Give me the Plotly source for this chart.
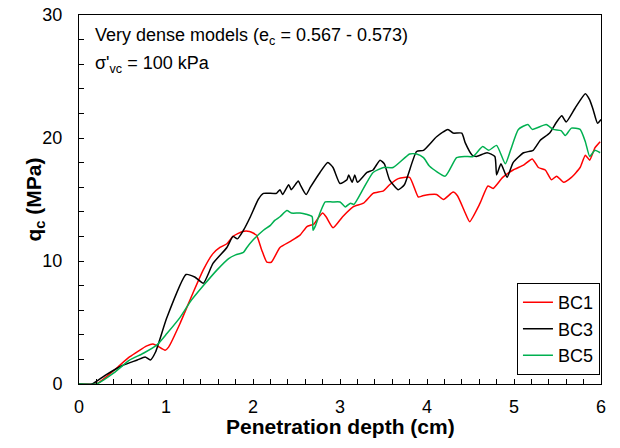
import plotly.graph_objects as go

# BC3 (black)
bc3_x = [0, 0.15, 0.3, 0.5, 0.67, 0.76, 0.82, 0.88, 1.01, 1.23, 1.33, 1.43, 1.54, 1.7, 1.77, 1.82, 1.89, 1.97,
         2.06, 2.12, 2.27, 2.31, 2.34, 2.41, 2.44, 2.52, 2.55, 2.61, 2.66, 2.77, 2.86, 2.92, 3.0, 3.08, 3.1, 3.14,
         3.17, 3.2, 3.31, 3.38, 3.46, 3.51, 3.57, 3.67, 3.74, 3.88, 3.96, 4.11, 4.24, 4.3, 4.4, 4.44, 4.52, 4.57,
         4.69, 4.78, 4.8, 4.85, 4.92, 4.99, 5.11, 5.22, 5.3, 5.41, 5.49, 5.55, 5.6, 5.7, 5.82, 5.87, 5.91, 5.96, 6.0]
bc3_y = [0, 0, 0.7, 1.5, 1.95, 2.2, 1.95, 2.6, 5.4, 8.9, 8.7, 8.2, 9.8, 11.1, 12.0, 11.8, 12.5, 13.6,
         15.0, 15.5, 15.5, 15.8, 15.4, 16.2, 15.8, 16.5, 16.1, 15.4, 16.0, 17.2, 18.0, 17.6, 16.3, 16.6, 17.0, 16.4,
         17.0, 16.4, 17.2, 17.4, 18.2, 17.9, 16.6, 15.8, 16.2, 18.9, 19.0, 20.1, 20.7, 20.4, 20.4, 19.6, 18.6, 18.5,
         18.8, 18.5, 17.0, 17.9, 16.8, 18.0, 18.8, 19.0, 19.8, 20.4, 21.3, 21.8, 21.3, 22.4, 23.6, 23.1, 22.3, 21.2, 21.5]

# BC1 (red)
bc1_x = [0, 0.2, 0.4, 0.58, 0.78, 0.85, 0.9, 0.99, 1.03, 1.16, 1.31, 1.43, 1.54, 1.62, 1.7, 1.77, 1.88, 1.96,
         2.04, 2.1, 2.16, 2.21, 2.31, 2.43, 2.54, 2.62, 2.7, 2.75, 2.8, 2.84, 2.92, 3.03, 3.15, 3.27, 3.38, 3.5,
         3.57, 3.67, 3.8, 3.9, 3.95, 4.11, 4.19, 4.3, 4.35, 4.44, 4.49, 4.61, 4.7, 4.76, 4.87, 4.99, 5.11, 5.21,
         5.28, 5.36, 5.43, 5.49, 5.57, 5.66, 5.76, 5.82, 5.87, 5.93, 5.99]
bc1_y = [0, 0, 1.1, 2.2, 3.1, 3.25, 3.1, 2.75, 3.0, 4.9, 7.4, 9.3, 10.6, 11.1, 11.4, 12.0, 12.4, 12.4,
         12.1, 10.9, 9.9, 9.9, 11.1, 11.6, 12.1, 12.8, 13.0, 13.5, 13.9, 13.6, 12.7, 13.6, 14.4, 14.7, 15.5, 15.7,
         16.2, 16.7, 16.8, 15.2, 15.3, 15.4, 15.0, 15.6, 15.3, 13.9, 13.2, 14.7, 16.1, 15.9, 16.8, 17.4, 17.8, 18.3,
         17.6, 17.4, 16.6, 16.9, 16.4, 16.8, 17.6, 18.6, 18.2, 19.2, 19.7]

# BC5 (green)
bc5_x = [0, 0.2, 0.4, 0.58, 0.74, 0.9, 1.01, 1.16, 1.28, 1.43, 1.59, 1.72, 1.8, 1.89, 1.93, 2.0, 2.12, 2.2,
         2.25, 2.31, 2.39, 2.44, 2.54, 2.61, 2.68, 2.69, 2.72, 2.77, 2.83, 2.91, 3.0, 3.06, 3.12, 3.16, 3.27, 3.38,
         3.5, 3.61, 3.8, 3.88, 3.96, 4.03, 4.21, 4.34, 4.44, 4.53, 4.64, 4.71, 4.8, 4.9, 4.96, 5.05, 5.16, 5.21,
         5.37, 5.45, 5.54, 5.59, 5.66, 5.76, 5.82, 5.87, 5.93, 5.99]
bc5_y = [0, 0, 0.9, 1.95, 2.5, 3.2, 4.1, 5.4, 6.7, 8.0, 9.3, 10.2, 10.5, 10.7, 11.1, 11.7, 12.5, 12.9,
         13.3, 13.6, 14.1, 13.9, 13.9, 13.8, 13.6, 12.5, 12.9, 13.9, 14.8, 14.8, 14.8, 14.4, 14.7, 14.6, 15.9, 17.2,
         17.6, 17.6, 18.7, 18.7, 18.4, 17.7, 16.9, 18.4, 18.5, 18.5, 19.3, 19.0, 19.4, 17.9, 19.0, 20.7, 21.1, 20.7,
         21.1, 20.7, 20.6, 20.2, 20.8, 20.7, 19.7, 18.5, 19.0, 18.8]

series = [("BC1", bc1_x, bc1_y, "#FF0000"),
          ("BC3", bc3_x, bc3_y, "#000000"),
          ("BC5", bc5_x, bc5_y, "#00B050")]

x_title = "<b>Penetration depth (cm)</b>"
y_title = "<b>q<sub>c</sub> (MPa)</b>"

FONT = "Liberation Sans, Arial, sans-serif"

fig = go.Figure()
for name, xs, ys, col in series:
    fig.add_trace(go.Scatter(x=xs, y=ys, mode="lines", name=name, legendgroup=name,
                             line=dict(color=col, width=1.5, shape="spline", smoothing=0.5)))

fig.update_layout(
    width=620, height=448,
    margin=dict(l=79, r=19, t=15, b=64),
    paper_bgcolor="white", plot_bgcolor="white",
    font=dict(family=FONT, size=18, color="black"),
    legend=dict(x=0.998, y=0.024, xanchor="right", yanchor="bottom",
                bordercolor="black", borderwidth=1, bgcolor="white",
                font=dict(size=18), tracegroupgap=0, itemwidth=30),
    xaxis=dict(range=[0, 6], dtick=1, showgrid=False, zeroline=False, automargin=False,
               showline=True, linecolor="black", linewidth=1, mirror=True,
               ticks="inside", ticklen=5, tickcolor="black", ticklabelstandoff=6,
               minor=dict(ticks="inside", dtick=0.2, ticklen=5, tickcolor="black"),
               tickfont=dict(size=18)),
    yaxis=dict(range=[0, 30], dtick=10, showgrid=False, zeroline=False, automargin=False,
               showline=True, linecolor="black", linewidth=1, mirror=True,
               ticks="inside", ticklen=5, tickcolor="black", ticklabelstandoff=12,
               minor=dict(ticks="inside", dtick=2, ticklen=5, tickcolor="black"),
               tickfont=dict(size=18)),
    annotations=[
        dict(text="Very dense models (e<sub>c</sub> = 0.567 - 0.573)", x=0.027, y=0.942,
             xref="paper", yref="paper", xanchor="left", yanchor="middle", showarrow=False,
             font=dict(size=18)),
        dict(text="σ'<sub>vc</sub> = 100 kPa", x=0.027, y=0.866,
             xref="paper", yref="paper", xanchor="left", yanchor="middle", showarrow=False,
             font=dict(size=18)),
        dict(text=x_title, x=0.5, y=0, xref="paper", yref="paper", xanchor="center",
             yanchor="top", yshift=-29, showarrow=False, font=dict(size=21)),
        dict(text=y_title, x=0, y=0.5, xref="paper", yref="paper", xanchor="center",
             yanchor="middle", xshift=-45, textangle=-90, showarrow=False, font=dict(size=21)),
    ],
)

fig.write_html("out.html")
